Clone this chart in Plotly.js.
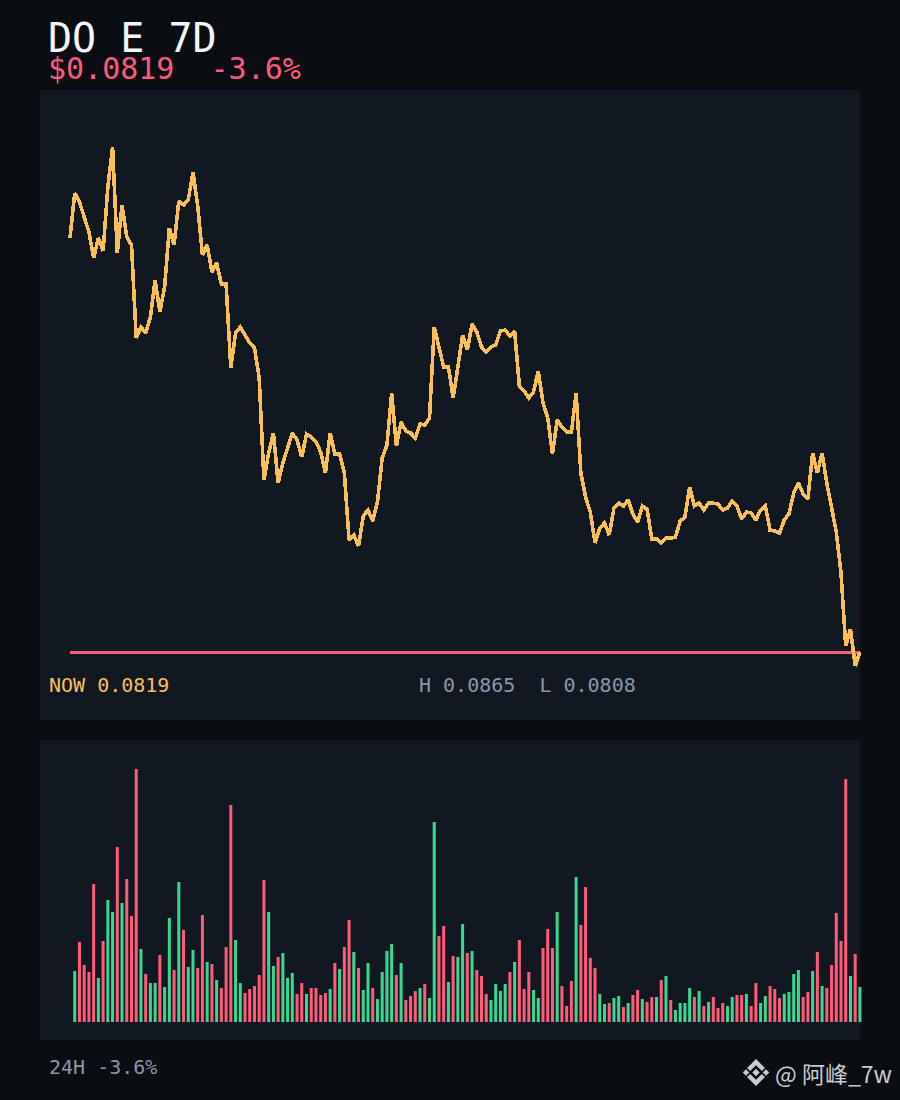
<!DOCTYPE html>
<html>
<head>
<meta charset="utf-8">
<script src="https://cdn.plot.ly/plotly-3.0.1.min.js"></script>
<style>
html,body{margin:0;padding:0;background:#0a0d12;}
#chart{width:900px;height:1100px;}
.scatterlayer .js-line{shape-rendering:crispEdges;}
</style>
</head>
<body>
<div id="chart"></div>
<script>
const prices = [
0.085508,0.086003,0.085904,0.085728,0.085574,0.085288,0.085508,0.085365,0.086069,0.086509,
0.085343,0.085871,0.085519,0.085431,0.084408,0.084529,0.084463,0.084639,0.085046,0.084694,
0.084969,0.085618,0.085431,0.085915,0.085871,0.085926,0.086234,0.085860,0.085321,0.085431,
0.085134,0.085233,0.085002,0.085000,0.084078,0.084463,0.084529,0.084441,0.084353,0.084298,
0.083968,0.082846,0.083143,0.083363,0.082813,0.083033,0.083198,0.083363,0.083286,0.083099,
0.083352,0.083319,0.083264,0.083154,0.082923,0.083363,0.083132,0.083137,0.082923,0.082186,
0.082241,0.082120,0.082450,0.082516,0.082395,0.082604,0.083088,0.083231,0.083803,0.083220,
0.083484,0.083385,0.083363,0.083308,0.083462,0.083451,0.083528,0.084529,0.084309,0.084089,
0.084094,0.083748,0.084089,0.084441,0.084276,0.084562,0.084474,0.084309,0.084254,0.084309,
0.084331,0.084485,0.084496,0.084430,0.084485,0.083880,0.083825,0.083748,0.083814,0.084045,
0.083693,0.083528,0.083132,0.083506,0.083429,0.083374,0.083369,0.083803,0.082923,0.082659,
0.082494,0.082153,0.082318,0.082373,0.082241,0.082538,0.082593,0.082560,0.082626,0.082472,
0.082384,0.082560,0.082527,0.082197,0.082200,0.082153,0.082208,0.082205,0.082219,0.082395,
0.082439,0.082769,0.082560,0.082593,0.082516,0.082593,0.082590,0.082582,0.082516,0.082538,
0.082615,0.082560,0.082417,0.082494,0.082483,0.082406,0.082516,0.082560,0.082296,0.082285,
0.082263,0.082406,0.082472,0.082703,0.082813,0.082692,0.082637,0.083143,0.082923,0.083143,
0.082813,0.082538,0.082274,0.081823,0.081020,0.081207,0.080800,0.080954
];
const volumes = [
51,80,57,50,138,44,81,122,110,175,119,143,106,253,73,48,39,39,67,35,
104,52,140,92,55,72,54,107,60,58,42,34,75,217,82,39,29,33,36,47,
142,110,56,65,69,44,49,28,39,28,34,34,27,29,33,59,53,75,102,70,
54,32,59,34,23,50,71,78,47,59,22,26,31,34,38,24,200,86,96,40,
66,65,98,69,71,52,46,28,22,38,31,38,50,60,82,33,50,32,24,74,
93,74,110,36,16,41,145,97,135,64,54,28,18,19,24,26,15,19,27,32,
23,20,25,25,42,46,22,12,19,19,34,25,31,16,20,25,14,19,16,25,
27,27,28,16,39,19,26,36,33,24,28,30,48,52,25,30,51,70,36,34,
57,109,81,243,46,68,35
];
const barSides = [
"GRRRRGRGGR","GRRRGRGGRG","GRGRGGRRGR","GRRRGGRRRR","RGGRGGGRRG","RRRRG",
"RGRRGRGGRG","GGGRGRRRGR","GGRRGRGGRG","RRRGGGGRGR","RRGGRRRGRR","RGRRRRG",
"GRGGRGRRGR","RGRGRGGGGR","GRGRRRGGRR","GRRGGRRRGG","GGRRGRGRRR","RRGRG"
].join("").split("");
const titleText = "DO E 7D";
const priceText = "$0.0819  -3.6%";
const nowText = "NOW 0.0819";
const rangeText = "H 0.0865  L 0.0808";
const changeText = "24H -3.6%";
const markText = "@ \u963f\u5cf0_7w";

const RED = "#ff5a78", GREEN = "#35d98f", AMBER = "#f9bf58", PANEL = "#111822", INK = "#c8ccd0";
const MONO = "'DejaVu Sans Mono', monospace";
const hours = prices.map((_, i) => i);
const last = prices[prices.length - 1];
const px = x => (x - 40) / 830;
const py = y => (1040 - y) / 950;
const note = (text, x, y, size, color, family) => ({
  text, x: px(x), y: py(y), xref: "paper", yref: "paper", xanchor: "left", yanchor: "middle",
  showarrow: false, borderpad: 0, font: {family: family || MONO, size, color}
});
const panel = (x0, y0, x1, y1) => ({
  type: "rect", xref: "paper", yref: "paper", layer: "below", line: {width: 0}, fillcolor: PANEL,
  x0: px(x0), x1: px(x1), y0: py(y1), y1: py(y0)
});
const glyph = pts => ({
  type: "path", xref: "paper", yref: "paper", line: {width: 0}, fillcolor: INK,
  path: "M" + pts.map(p => px(756 + p[0]) + "," + py(1072.5 + p[1])).join("L") + "Z"
});
const diamond = (cx, r) => glyph([[cx, -r], [cx + r, 0], [cx, r], [cx - r, 0]]);
const logo = [
  glyph([[0, -13.5], [9, -4.5], [5.8, -1.5], [0, -7.3], [-5.8, -1.5], [-9, -4.5]]),
  glyph([[0, 13.5], [9, 4.5], [5.8, 1.5], [0, 7.3], [-5.8, 1.5], [-9, 4.5]]),
  diamond(0, 3.7), diamond(-10, 3.3), diamond(10, 3.3)
];

const traces = [
  {type: "scatter", mode: "lines", x: [hours[0], hours[hours.length - 1]], y: [last, last], xaxis: "x", yaxis: "y",
   line: {color: RED, width: 3}, hoverinfo: "skip"},
  {type: "scatter", mode: "lines", x: hours, y: prices, xaxis: "x", yaxis: "y",
   line: {color: AMBER, width: 3.6, shape: "linear"}, hoverinfo: "skip"},
  {type: "bar", x: hours.slice(1), y: volumes, xaxis: "x2", yaxis: "y2", width: 0.64,
   marker: {color: barSides.map(s => s === "G" ? GREEN : RED), line: {width: 0}}, hoverinfo: "skip"}
];

const hidden = {visible: false, showgrid: false, zeroline: false, fixedrange: true};
const xRange = [-6.342, 169.13];
const layout = {
  width: 900, height: 1100, showlegend: false,
  paper_bgcolor: "#0a0d12", plot_bgcolor: "rgba(0,0,0,0)",
  margin: {l: 40, r: 30, t: 90, b: 60, pad: 0},
  xaxis: {...hidden, domain: [0, 1], range: xRange, anchor: "y"},
  yaxis: {...hidden, domain: [py(720), 1], range: [0.080206, 0.087136], anchor: "x"},
  xaxis2: {...hidden, domain: [0, 1], range: xRange, anchor: "y2"},
  yaxis2: {...hidden, domain: [0, py(740)], range: [-18, 282], anchor: "x2"},
  shapes: [panel(40, 90, 860, 720), panel(40, 740, 860, 1040), ...logo],
  annotations: [
    note(titleText, 47, 38, 40, "#f2f5f9"),
    note(priceText, 47, 68, 30, RED),
    note(nowText, 48, 685, 20, AMBER),
    note(rangeText, 418, 685, 20, "#8a96ad"),
    note(changeText, 48, 1067, 20, "#8a96ad"),
    note(markText, 774, 1073, 23, INK, "'Noto Sans CJK SC'")
  ]
};
Plotly.newPlot("chart", traces, layout, {displayModeBar: false, staticPlot: true});
</script>
</body>
</html>
